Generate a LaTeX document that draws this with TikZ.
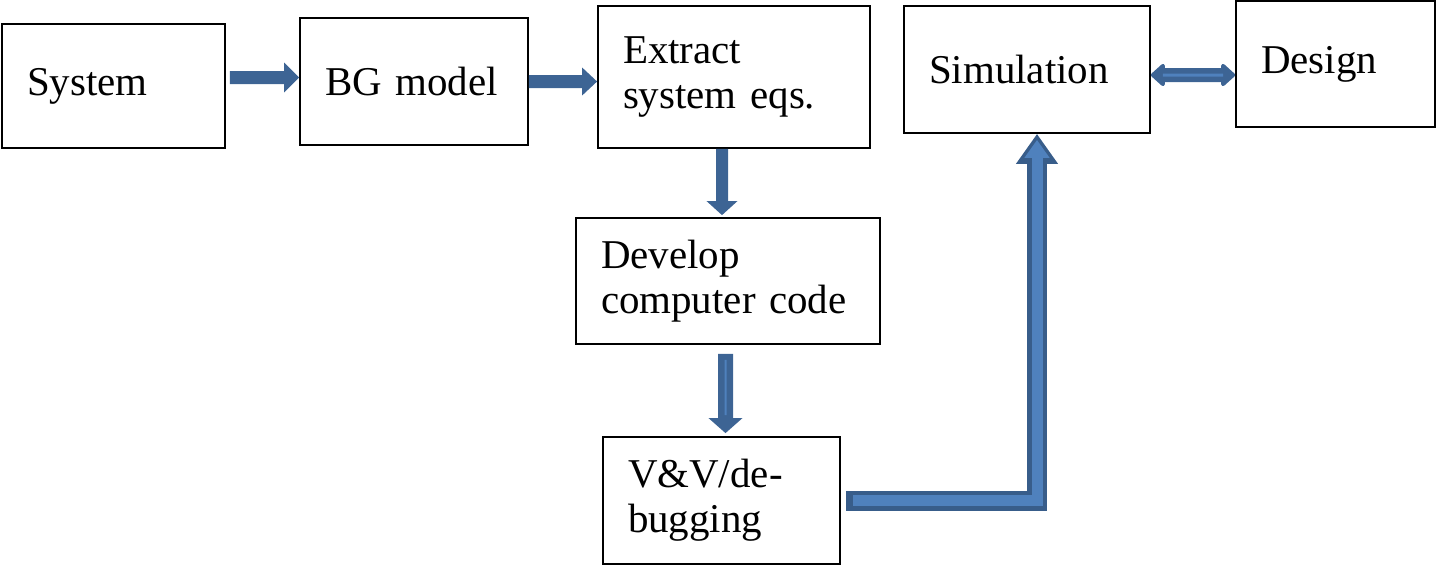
\documentclass[tikz,border=0pt]{standalone}
\usepackage{fontspec}
\setmainfont{Liberation Serif}
\usetikzlibrary {positioning}
\usetikzlibrary {arrows.meta}

\definecolor{arrowdark}{RGB}{56,93,138}
\definecolor{arrowfill}{RGB}{79,129,189}

\begin{document}
\begin{tikzpicture}
	[x=0.02cm, y=-0.02cm,
	 block/.style={rectangle,draw,line width=1pt,align=left,inner xsep=0.5cm,inner ysep=0pt,font=\fontsize{23.3}{25.6}\selectfont},
	 flow/.style={arrowdark!80!arrowfill,line width=#1},
	 outer/.style={arrowdark,line width=0.4cm,line join=miter},
	 inner/.style={arrowfill,line width=0.22cm,line join=miter}]
	\useasboundingbox (0,0) rectangle (1445,583);
	\node[block, text width=3.46cm, minimum height=2.48cm] (sys) at (113.5,86) {System};
	\node[block, text width=3.56cm, minimum height=2.54cm] (bg)  at (414,81.5) {BG model};
	\node[block, text width=4.44cm, minimum height=2.84cm] (ext) at (734,77) {Extract\\system eqs.};
	\node[block, text width=3.92cm, minimum height=2.54cm] (sim) at (1027,69.5) {Simulation};
	\node[block, text width=2.98cm, minimum height=2.52cm] (des) at (1335.5,64) {Design};
	\node[block, text width=5.08cm, minimum height=2.52cm] (dev) at (728,281) {Develop\\computer code};
	\node[block, text width=3.74cm, minimum height=2.54cm] (vv)  at (721.5,500.5) {V\&V/de-\\bugging};
	\draw[flow=0.26cm, -{Triangle[width=0.58cm,length=0.3cm]}] ([xshift=0.08cm,yshift=0.17cm]sys.east) -- ([yshift=0.08cm]bg.west);
	\draw[flow=0.26cm, -{Triangle[width=0.54cm,length=0.3cm]}] (bg.east) -- ([yshift=-0.09cm]ext.west);
	\draw[flow=0.24cm, -{Triangle[width=0.6cm,length=0.28cm]}] ([xshift=-0.24cm]ext.south) -- ([xshift=-0.12cm,yshift=0.04cm]dev.north);
	\draw[flow=0.3cm, -{Triangle[width=0.66cm,length=0.3cm]}] ([xshift=-0.05cm,yshift=-0.18cm]dev.south) -- ([xshift=0.08cm,yshift=0.06cm]vv.north);
	\draw[arrowfill, line width=0.04cm, shorten <=0.12cm, shorten >=0.36cm] ([xshift=-0.05cm,yshift=-0.18cm]dev.south) -- ([xshift=0.08cm,yshift=0.06cm]vv.north);
	% bent arrow up to the simulation
	\draw[outer, -{Triangle[width=0.8cm,length=0.6cm]}] ([xshift=0.1cm]vv.east) -| ([xshift=0.2cm]sim.south);
	\draw[inner, shorten <=0.14cm, shorten >=0.12cm, -{Triangle[width=0.48cm,length=0.36cm]}] ([xshift=0.1cm]vv.east) -| ([xshift=0.2cm]sim.south);
	% two-way arrow
	\draw[flow=0.28cm, {Triangle[round,width=0.52cm,length=0.3cm]}-{Triangle[round,width=0.52cm,length=0.3cm]}] ([yshift=-0.11cm]sim.east) -- ([yshift=-0.22cm]des.west);
	\draw[arrowfill, line width=0.06cm, shorten <=0.24cm, shorten >=0.24cm] ([yshift=-0.11cm]sim.east) -- ([yshift=-0.22cm]des.west);
\end{tikzpicture}
\end{document}
